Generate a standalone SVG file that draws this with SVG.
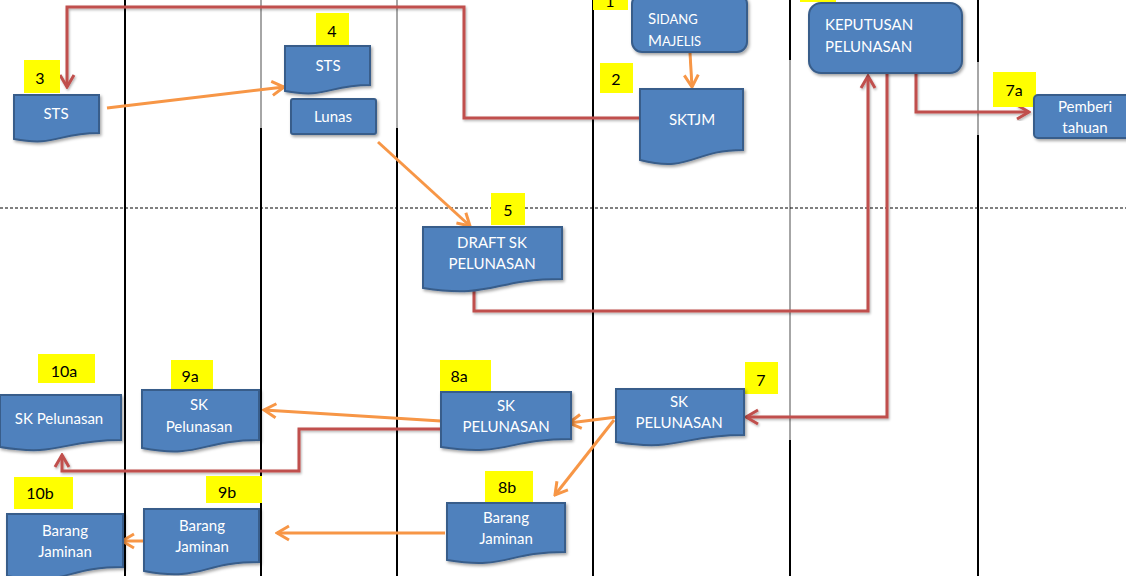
<svg xmlns="http://www.w3.org/2000/svg" width="1126" height="576" viewBox="0 0 1126 576">
<style>
.doc{fill:#4F81BD;stroke:#385D8A;stroke-width:2;filter:url(#sh)}
.t{font-family:Lato,"Open Sans",sans-serif;font-size:15px;fill:#fff;text-anchor:middle}
.tl{font-family:Lato,"Open Sans",sans-serif;font-size:15px;fill:#fff}
.y{fill:#FFFF00}
.n{font-family:Lato,"Open Sans",sans-serif;font-size:16px;fill:#000;text-anchor:middle}
.red{fill:none;stroke:#C0504D;stroke-width:3;marker-end:url(#ar);filter:url(#sh2)}
.or{fill:none;stroke:#F79646;stroke-width:3;marker-end:url(#ao)}
.vb{stroke:#000;stroke-width:2}
.vg{stroke:#888;stroke-width:1.5}
</style>
<defs>
<filter id="sh" x="-10%" y="-10%" width="130%" height="130%"><feDropShadow dx="1.5" dy="2" stdDeviation="1.5" flood-opacity="0.35"/></filter>
<filter id="sh2" x="-10%" y="-10%" width="130%" height="130%"><feDropShadow dx="1" dy="1.5" stdDeviation="1" flood-opacity="0.3"/></filter>
<marker id="ar" markerUnits="userSpaceOnUse" markerWidth="16" markerHeight="18" viewBox="0 0 16 18" refX="14" refY="9" orient="auto"><path d="M2,2 L14,9 L2,16" fill="none" stroke="#C0504D" stroke-width="3"/></marker>
<marker id="ao" markerUnits="userSpaceOnUse" markerWidth="16" markerHeight="18" viewBox="0 0 16 18" refX="14" refY="9" orient="auto"><path d="M2,2 L14,9 L2,16" fill="none" stroke="#F79646" stroke-width="3"/></marker>
</defs>
<rect width="1126" height="576" fill="#fff"/>
<g id="grid">
<line class="vb" x1="125" y1="0" x2="125" y2="576"/>
<line class="vg" x1="261" y1="0" x2="261" y2="128"/>
<line class="vb" x1="261" y1="128" x2="261" y2="576"/>
<line class="vg" x1="397" y1="0" x2="397" y2="128"/>
<line class="vb" x1="397" y1="128" x2="397" y2="576"/>
<line class="vb" x1="593" y1="0" x2="593" y2="576"/>
<line class="vb" x1="790" y1="0" x2="790" y2="60"/>
<line class="vg" x1="790" y1="60" x2="790" y2="440"/>
<line class="vb" x1="790" y1="440" x2="790" y2="576"/>
<line class="vb" x1="978" y1="0" x2="978" y2="62"/>
<line class="vg" x1="978" y1="62" x2="978" y2="135"/>
<line class="vb" x1="978" y1="135" x2="978" y2="576"/>
<line x1="0" y1="208" x2="1126" y2="208" stroke="#000" stroke-width="1" stroke-dasharray="3,2"/>
</g>
<g id="connectors">
<path class="red" d="M652,118 H464 V7 H67 V87"/>
<path class="red" d="M474,290 V311 H868 V76"/>
<path class="red" d="M887,72 V417 H746"/>
<path class="red" d="M916,69 V112 H1029"/>
<path class="red" d="M441,429 H299 V471 H62 V455"/>
<path class="or" d="M107,108 L284,87"/>
<path class="or" d="M690,53 L692,87"/>
<path class="or" d="M378,142 L470,226"/>
<path class="or" d="M617,417 L569,423"/>
<path class="or" d="M614,420 L555,495"/>
<path class="or" d="M441,421 L264,410"/>
<path class="or" d="M445,533 H277"/>
<path class="or" d="M151,541 H122"/>
</g>
<g id="n1">
<rect class="y" x="593" y="-5" width="35" height="15"/>
<text class="n" x="610" y="7">1</text>
<rect class="doc" x="632" y="-6" width="115" height="58" rx="10"/>
<text class="tl" x="648" y="24">S<tspan font-size="13">IDANG</tspan></text>
<text class="tl" x="648" y="46">M<tspan font-size="13">AJELIS</tspan></text>
</g>
<g id="n2">
<rect class="y" x="600" y="63" width="33" height="30"/>
<text class="n" x="616" y="85">2</text>
<path class="doc" d="M640,89 H743 V150 C691.5,150 691.5,173 640,160 Z"/>
<text class="t" x="692" y="125">SKTJM</text>
</g>
<g id="n3">
<rect class="y" x="24" y="60" width="36" height="33"/>
<text class="n" x="40" y="84">3</text>
<path class="doc" d="M14,95 H99 V133 C56.5,133 56.5,147 14,139 Z"/>
<text class="t" x="56" y="119">STS</text>
</g>
<g id="n4">
<rect class="y" x="316" y="13" width="33" height="33"/>
<text class="n" x="332" y="37">4</text>
<path class="doc" d="M285,46 H370 V85 C327.5,85 327.5,99 285,91 Z"/>
<text class="t" x="328" y="71">STS</text>
</g>
<g id="n4b">
<rect class="doc" x="291" y="99" width="85" height="35" rx="2"/>
<text class="t" x="333" y="122">Lunas</text>
</g>
<g id="n6">
<rect class="y" x="800" y="-5" width="36" height="7"/>
<rect class="doc" x="809" y="3" width="153" height="70" rx="12"/>
<text class="tl" x="825" y="30">KEPUTUSAN</text>
<text class="tl" x="825" y="52">PELUNASAN</text>
</g>
<g id="n7a">
<rect class="y" x="993" y="72" width="43" height="35"/>
<text class="n" x="1014" y="96">7a</text>
<rect class="doc" x="1034" y="95" width="100" height="43" rx="4"/>
<text class="t" x="1085" y="112">Pemberi</text>
<text class="t" x="1085" y="133">tahuan</text>
</g>
<g id="n5">
<rect class="y" x="491" y="193" width="34" height="32"/>
<text class="n" x="508" y="216">5</text>
<path class="doc" d="M423,227 H562 V279 C492.5,279 492.5,299 423,288 Z"/>
<text class="t" x="492" y="248">DRAFT SK</text>
<text class="t" x="492" y="269">PELUNASAN</text>
</g>
<g id="n7">
<rect class="y" x="745" y="362" width="33" height="32"/>
<text class="n" x="761" y="386">7</text>
<path class="doc" d="M616,389 H744 V435 C680,435 680,452 616,442 Z"/>
<text class="t" x="679" y="407">SK</text>
<text class="t" x="679" y="428">PELUNASAN</text>
</g>
<g id="n8a">
<rect class="y" x="440" y="360" width="51" height="31"/>
<text class="n" x="459" y="382">8a</text>
<path class="doc" d="M441,392 H571 V439 C506,439 506,457 441,447 Z"/>
<text class="t" x="506" y="411">SK</text>
<text class="t" x="506" y="432">PELUNASAN</text>
</g>
<g id="n8b">
<rect class="y" x="485" y="471" width="48" height="33"/>
<text class="n" x="507" y="493">8b</text>
<path class="doc" d="M447,503 H565 V552 C506,552 506,570 447,560 Z"/>
<text class="t" x="506" y="523">Barang</text>
<text class="t" x="506" y="544">Jaminan</text>
</g>
<g id="n9a">
<rect class="y" x="171" y="360" width="42" height="29"/>
<text class="n" x="190" y="382">9a</text>
<path class="doc" d="M142,390 H259 V440 C200.5,440 200.5,459 142,448 Z"/>
<text class="t" x="199" y="410">SK</text>
<text class="t" x="199" y="432">Pelunasan</text>
</g>
<g id="n10a">
<rect class="y" x="38" y="354" width="57" height="29"/>
<text class="n" x="64" y="377">10a</text>
<path class="doc" d="M0,395 H121 V440 C60.5,440 60.5,457 0,447 Z"/>
<text class="t" x="59" y="424">SK Pelunasan</text>
</g>
<g id="n9b">
<rect class="y" x="206" y="476" width="56" height="27"/>
<text class="n" x="227" y="498">9b</text>
<path class="doc" d="M144,509 H259 V562 C201.5,562 201.5,582 144,571 Z"/>
<text class="t" x="202" y="531">Barang</text>
<text class="t" x="202" y="552">Jaminan</text>
</g>
<g id="n10b">
<rect class="y" x="14" y="477" width="59" height="32"/>
<text class="n" x="40" y="499">10b</text>
<path class="doc" d="M7,514 H123 V567 C65,567 65,587 7,576 Z"/>
<text class="t" x="65" y="536">Barang</text>
<text class="t" x="65" y="557">Jaminan</text>
</g>
</svg>
